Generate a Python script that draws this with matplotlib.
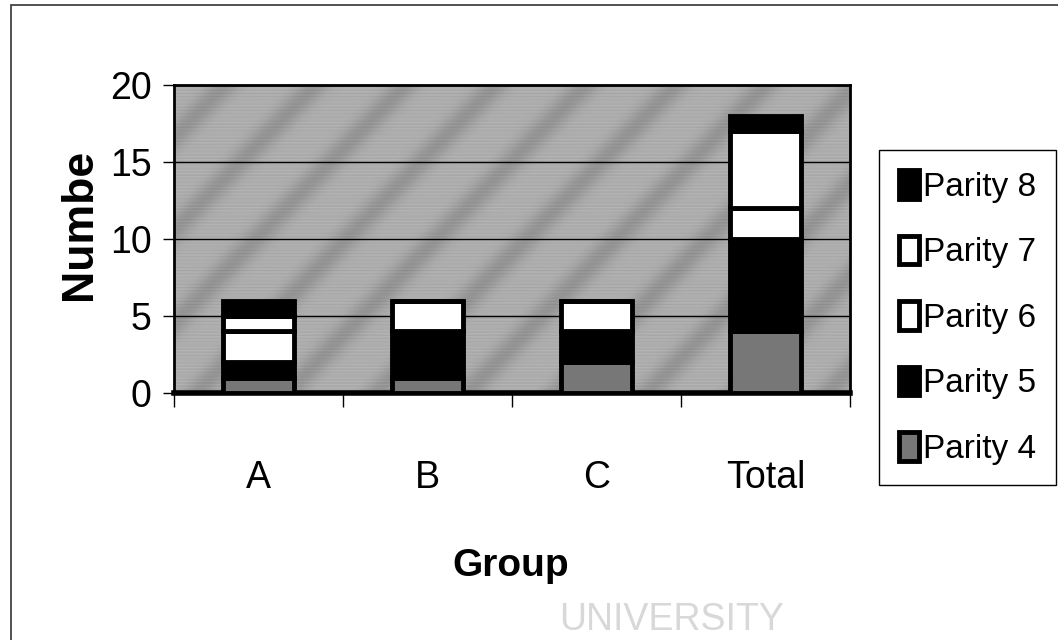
import numpy as np
import matplotlib.pyplot as plt
from matplotlib.patches import Rectangle

plt.rcParams['font.family'] = ['Liberation Sans', 'DejaVu Sans']

# Number of animals per parity class in each group
groups = ["A", "B", "C", "Total"]
parity_4 = [1, 1, 2, 4]
parity_5 = [1, 3, 2, 6]
parity_6 = [2, 0, 0, 2]
parity_7 = [1, 2, 2, 5]
parity_8 = [1, 0, 0, 1]

series = [("Parity 4", parity_4, "#777777"),
          ("Parity 5", parity_5, "black"),
          ("Parity 6", parity_6, "white"),
          ("Parity 7", parity_7, "white"),
          ("Parity 8", parity_8, "black")]

fig = plt.figure(figsize=(10.58, 6.4), dpi=100)
fig.patch.set_facecolor("white")

# outer chart frame
fig.add_artist(Rectangle((11 / 1058, -0.05), 1.2, 1 - 5 / 640 + 0.05,
                         transform=fig.transFigure, fill=False,
                         edgecolor="#333333", linewidth=1.2))

ax = fig.add_axes([174 / 1058, 1 - 393 / 640, (850 - 174) / 1058, (393 - 85) / 640])

# grey textured plot area with diagonal streaks
xx, yy = np.meshgrid(np.linspace(0, 1, 400), np.linspace(0, 1, 200))
stripes = 0.5 + 0.5 * np.sin(2 * np.pi * (xx * 3.4 - yy * 1.5) * 2.2)
tex = 0.68 - 0.10 * stripes ** 3 + 0.03 * np.sin(2 * np.pi * yy * 90)
ax.imshow(tex, cmap="gray", vmin=0, vmax=1, extent=(-0.5, 3.5, 0, 20),
          aspect="auto", origin="lower", zorder=0, interpolation="bilinear")

x = np.arange(len(groups))
bottom = np.zeros(len(groups))
handles = []
for name, vals, col in series:
    b = ax.bar(x, vals, width=0.42, bottom=bottom, color=col,
               edgecolor="black", linewidth=3.5, label=name, zorder=3)
    handles.append(b)
    bottom += np.array(vals)

ax.set_xlim(-0.5, 3.5)
ax.set_ylim(0, 20)
ax.set_yticks([0, 5, 10, 15, 20])
ax.yaxis.grid(True, color="black", linewidth=1.0, zorder=1)
ax.set_axisbelow(True)

ax.set_xticks(x)
ax.set_xticklabels(groups)
ax.set_xticks(np.arange(-0.5, 4, 1), minor=True)
ax.tick_params(axis="x", which="major", length=0, pad=48, labelsize=27)
ax.tick_params(axis="x", which="minor", length=10, width=1, direction="out")
ax.tick_params(axis="y", length=8, width=1, pad=8, labelsize=27)

for side in ["top", "right", "left"]:
    ax.spines[side].set_linewidth(2)
ax.spines["bottom"].set_linewidth(4)

# axis titles
fig.text(80 / 1058, 1 - 224 / 640, "Numbe", fontsize=32, fontweight="bold",
         rotation=90, ha="center", va="center")
fig.text(511 / 1058, 1 - 566 / 640, "Group", fontsize=28, fontweight="bold",
         ha="center", va="center")

leg = ax.legend(handles[::-1], [s[0] for s in series][::-1],
                loc="upper left", bbox_to_anchor=(879 / 1058, 1 - 150 / 640),
                bbox_transform=fig.transFigure, fontsize=24, frameon=True,
                fancybox=False, edgecolor="black", framealpha=1,
                handlelength=0.6, handleheight=0.95, handletextpad=0.12,
                labelspacing=0.98, borderpad=0.6, borderaxespad=0)
leg.get_frame().set_linewidth(1)

# faint watermark text
fig.text(672 / 1058, 1 - 620 / 640, "UNIVERSITY", fontsize=27,
         color="#d8d8d8", ha="center", va="center")

fig.savefig("out.png", dpi=100)
